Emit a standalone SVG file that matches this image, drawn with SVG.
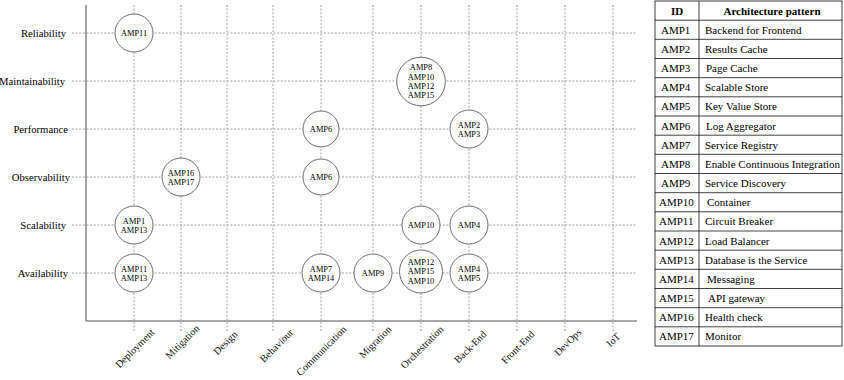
<svg xmlns="http://www.w3.org/2000/svg" width="844" height="380" viewBox="0 0 844 380">
<style>
  .grid { stroke: #8a8a8a; stroke-width: 0.8; stroke-dasharray: 2 1.6; fill: none; }
  .axis { stroke: #8c8c8c; stroke-width: 1.6; fill: none; }
  .node circle { fill: #ffffff; stroke: #6e6e6e; stroke-width: 1; }
  .node text { font-family: "Liberation Serif", "Times New Roman", serif; font-size: 8.4px; fill: #000; text-anchor: middle; }
  .ylab { font-family: "Liberation Serif", "Times New Roman", serif; font-size: 10.7px; fill: #000; text-anchor: end; }
  .xlab { font-family: "Liberation Serif", "Times New Roman", serif; font-size: 10.2px; fill: #111; text-anchor: end; }
  .tline { stroke: #111; stroke-width: 0.8; fill: none; }
  .ttxt { font-family: "Liberation Serif", "Times New Roman", serif; font-size: 11px; fill: #000; }
  .thead { font-family: "Liberation Serif", "Times New Roman", serif; font-size: 11px; font-weight: bold; fill: #000; text-anchor: middle; }
</style>

<!-- grid -->
<g id="grid">
  <line class="grid" x1="72" y1="33" x2="637" y2="33"/>
  <line class="grid" x1="72" y1="81" x2="637" y2="81"/>
  <line class="grid" x1="72" y1="129" x2="637" y2="129"/>
  <line class="grid" x1="72" y1="177" x2="637" y2="177"/>
  <line class="grid" x1="72" y1="225" x2="637" y2="225"/>
  <line class="grid" x1="72" y1="273" x2="637" y2="273"/>
  <line class="grid" x1="134" y1="5" x2="134" y2="331"/>
  <line class="grid" x1="181" y1="5" x2="181" y2="331"/>
  <line class="grid" x1="227" y1="5" x2="227" y2="331"/>
  <line class="grid" x1="273" y1="5" x2="273" y2="331"/>
  <line class="grid" x1="321" y1="5" x2="321" y2="331"/>
  <line class="grid" x1="373" y1="5" x2="373" y2="331"/>
  <line class="grid" x1="421" y1="5" x2="421" y2="331"/>
  <line class="grid" x1="469" y1="5" x2="469" y2="331"/>
  <line class="grid" x1="517" y1="5" x2="517" y2="331"/>
  <line class="grid" x1="565" y1="5" x2="565" y2="331"/>
  <line class="grid" x1="613" y1="5" x2="613" y2="331"/>
</g>

<g id="axes">
  <line class="axis" x1="86" y1="5" x2="86" y2="321"/>
  <line class="axis" x1="86" y1="321" x2="637" y2="321"/>
</g>

<g id="y-labels">
  <text class="ylab" x="66" y="36.5">Reliability</text>
  <text class="ylab" x="65" y="84.5">Maintainability</text>
  <text class="ylab" x="68" y="132.5">Performance</text>
  <text class="ylab" x="70" y="180.5">Observability</text>
  <text class="ylab" x="66" y="228.5">Scalability</text>
  <text class="ylab" x="68" y="276.5">Availability</text>
</g>

<g id="x-labels">
  <text class="xlab" transform="translate(155,333) rotate(-45)">Deployment</text>
  <text class="xlab" transform="translate(200,329) rotate(-45)">Mitigation</text>
  <text class="xlab" transform="translate(238,335) rotate(-45)">Design</text>
  <text class="xlab" transform="translate(294,333) rotate(-45)">Behaviour</text>
  <text class="xlab" transform="translate(347,330) rotate(-45)">Communication</text>
  <text class="xlab" transform="translate(392,330) rotate(-45)">Migration</text>
  <text class="xlab" transform="translate(444,330) rotate(-45)">Orchestration</text>
  <text class="xlab" transform="translate(487,335) rotate(-45)">Back-End</text>
  <text class="xlab" transform="translate(535,335) rotate(-45)">Front-End</text>
  <text class="xlab" transform="translate(582,333) rotate(-45)">DevOps</text>
  <text class="xlab" transform="translate(621,337) rotate(-45)">IoT</text>
</g>

<!-- nodes -->
<g id="n-rel-dep" class="node"><circle cx="134" cy="33" r="19"/><text x="134" y="36">AMP11</text></g>
<g id="n-mai-orc" class="node"><circle cx="421" cy="81.5" r="24.3"/>
  <text x="421" y="70.2">AMP8</text><text x="421" y="79.5">AMP10</text><text x="421" y="88.8">AMP12</text><text x="421" y="98.1">AMP15</text></g>
<g id="n-per-com" class="node"><circle cx="321" cy="129" r="18"/><text x="321" y="132">AMP6</text></g>
<g id="n-per-bac" class="node"><circle cx="469" cy="129" r="19"/><text x="469" y="127.5">AMP2</text><text x="469" y="137">AMP3</text></g>
<g id="n-obs-mit" class="node"><circle cx="181" cy="177" r="19"/><text x="181" y="175.5">AMP16</text><text x="181" y="185">AMP17</text></g>
<g id="n-obs-com" class="node"><circle cx="321" cy="177" r="18"/><text x="321" y="180">AMP6</text></g>
<g id="n-sca-dep" class="node"><circle cx="134" cy="225" r="19"/><text x="134" y="224">AMP1</text><text x="134" y="233.3">AMP13</text></g>
<g id="n-sca-orc" class="node"><circle cx="421" cy="225" r="19"/><text x="421" y="228">AMP10</text></g>
<g id="n-sca-bac" class="node"><circle cx="469" cy="225" r="19"/><text x="469" y="228">AMP4</text></g>
<g id="n-ava-dep" class="node"><circle cx="134" cy="273" r="19"/><text x="134" y="272">AMP11</text><text x="134" y="281.3">AMP13</text></g>
<g id="n-ava-com" class="node"><circle cx="321" cy="273" r="19"/><text x="321" y="272">AMP7</text><text x="321" y="281.3">AMP14</text></g>
<g id="n-ava-mig" class="node"><circle cx="373" cy="273" r="19"/><text x="373" y="276">AMP9</text></g>
<g id="n-ava-orc" class="node"><circle cx="421" cy="271.5" r="21.5"/>
  <text x="421" y="265">AMP12</text><text x="421" y="274.3">AMP15</text><text x="421" y="283.6">AMP10</text></g>
<g id="n-ava-bac" class="node"><circle cx="469" cy="273" r="19"/><text x="469" y="272">AMP4</text><text x="469" y="281.3">AMP5</text></g>

<!-- table -->
<g id="table">
  <rect class="tline" x="655" y="1" width="187" height="345"/>
  <line class="tline" x1="699" y1="1" x2="699" y2="346"/>
  <line class="tline" x1="655" y1="20.2" x2="842" y2="20.2"/>
  <line class="tline" x1="655" y1="39.3" x2="842" y2="39.3"/>
  <line class="tline" x1="655" y1="58.5" x2="842" y2="58.5"/>
  <line class="tline" x1="655" y1="77.7" x2="842" y2="77.7"/>
  <line class="tline" x1="655" y1="96.8" x2="842" y2="96.8"/>
  <line class="tline" x1="655" y1="116" x2="842" y2="116"/>
  <line class="tline" x1="655" y1="135.2" x2="842" y2="135.2"/>
  <line class="tline" x1="655" y1="154.3" x2="842" y2="154.3"/>
  <line class="tline" x1="655" y1="173.5" x2="842" y2="173.5"/>
  <line class="tline" x1="655" y1="192.7" x2="842" y2="192.7"/>
  <line class="tline" x1="655" y1="211.8" x2="842" y2="211.8"/>
  <line class="tline" x1="655" y1="231" x2="842" y2="231"/>
  <line class="tline" x1="655" y1="250.2" x2="842" y2="250.2"/>
  <line class="tline" x1="655" y1="269.3" x2="842" y2="269.3"/>
  <line class="tline" x1="655" y1="288.5" x2="842" y2="288.5"/>
  <line class="tline" x1="655" y1="307.7" x2="842" y2="307.7"/>
  <line class="tline" x1="655" y1="326.8" x2="842" y2="326.8"/>

  <text class="thead" x="677" y="14.5">ID</text>
  <text class="thead" x="772" y="14.5">Architecture pattern</text>

  <g class="ttxt">
    <text x="661" y="33.7">AMP1</text><text x="705" y="33.7">Backend for Frontend</text>
    <text x="661" y="52.9">AMP2</text><text x="705" y="52.9">Results Cache</text>
    <text x="661" y="72.1">AMP3</text><text x="706" y="72.1">Page Cache</text>
    <text x="661" y="91.2">AMP4</text><text x="705" y="91.2">Scalable Store</text>
    <text x="661" y="110.4">AMP5</text><text x="705" y="110.4">Key Value Store</text>
    <text x="661" y="129.6">AMP6</text><text x="706" y="129.6">Log Aggregator</text>
    <text x="661" y="148.7">AMP7</text><text x="705" y="148.7">Service Registry</text>
    <text x="661" y="167.9">AMP8</text><text x="705" y="167.9">Enable Continuous Integration</text>
    <text x="661" y="187.1">AMP9</text><text x="705" y="187.1">Service Discovery</text>
    <text x="659" y="206.2">AMP10</text><text x="707" y="206.2">Container</text>
    <text x="659" y="225.4">AMP11</text><text x="705" y="225.4">Circuit Breaker</text>
    <text x="659" y="244.6">AMP12</text><text x="705" y="244.6">Load Balancer</text>
    <text x="659" y="263.7">AMP13</text><text x="705" y="263.7">Database is the Service</text>
    <text x="659" y="282.9">AMP14</text><text x="707" y="282.9">Messaging</text>
    <text x="659" y="302.1">AMP15</text><text x="708" y="302.1">API gateway</text>
    <text x="659" y="321.2">AMP16</text><text x="705" y="321.2">Health check</text>
    <text x="659" y="340.4">AMP17</text><text x="705" y="340.4">Monitor</text>
  </g>
</g>
</svg>
